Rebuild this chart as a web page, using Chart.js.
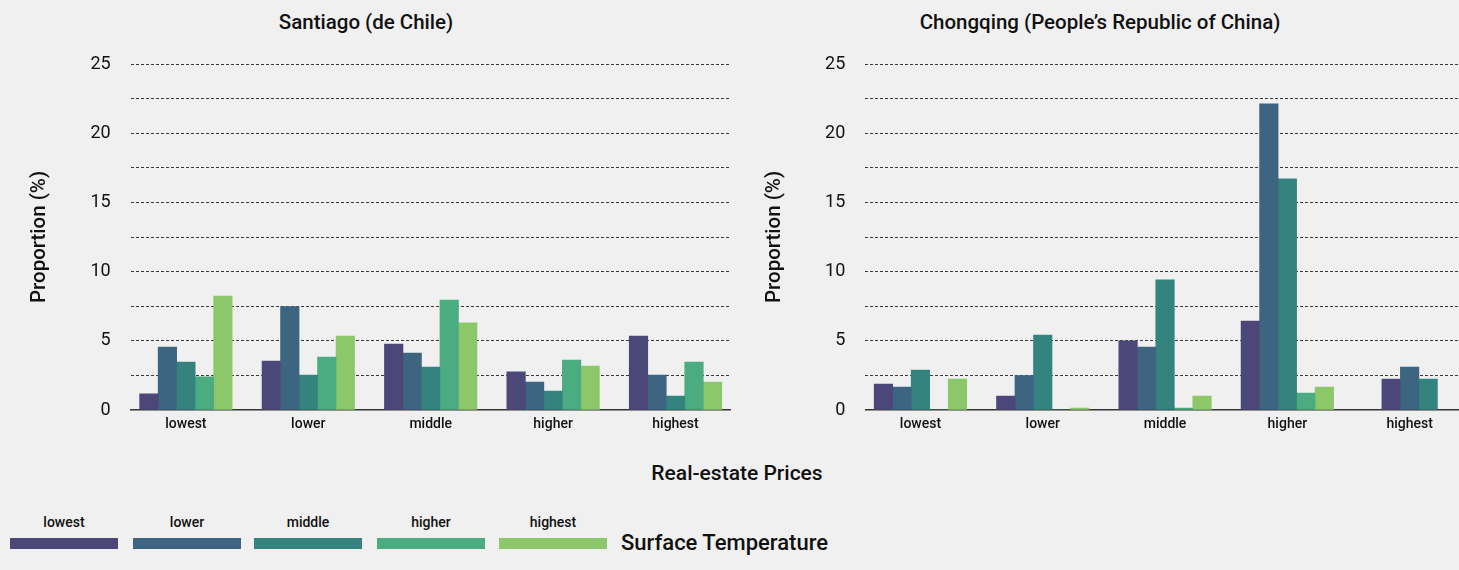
<!DOCTYPE html>
<html>
<head>
<meta charset="utf-8">
<script src="https://cdn.jsdelivr.net/npm/chart.js@4"></script>
<style>
  html, body { margin: 0; padding: 0; background: #f0f0f0; overflow: hidden; }
  body { width: 1459px; height: 570px; position: relative; font-family: Roboto, "Liberation Sans", sans-serif; color: #111; }
  .box { position: absolute; }
  .title { position: absolute; font-size: 20.5px; font-weight: 500; transform: translate(-50%, -50%); white-space: nowrap; }
  .xtitle { position: absolute; font-size: 21px; font-weight: 500; transform: translate(-50%, -50%); white-space: nowrap; }
  .leg-item { position: absolute; top: 512px; width: 108px; text-align: center; }
  .leg-item span { display: block; font-size: 14px; font-weight: 500; height: 20px; line-height: 20px; }
  .leg-item i { display: block; height: 11px; margin-top: 6px; }
  .leg-name { position: absolute; left: 621px; top: 542px; font-size: 22px; font-weight: 500; transform: translateY(-50%); white-space: nowrap; }
</style>
</head>
<body>
<div class="title" style="left:366px; top:22px;">Santiago (de Chile)</div>
<div class="title" style="left:1100px; top:22px;">Chongqing (People’s Republic of China)</div>
<div class="box" style="left:0; top:0; width:745px; height:445px;"><canvas id="chartSantiago"></canvas></div>
<div class="box" style="left:740px; top:0; width:745px; height:445px;"><canvas id="chartChongqing"></canvas></div>
<div class="xtitle" style="left:737px; top:473px;">Real-estate Prices</div>
<div id="legend"></div>
<div class="leg-name">Surface Temperature</div>

<script>
// x categories: real-estate price level
const priceLevels = ['lowest', 'lower', 'middle', 'higher', 'highest'];
// series: surface temperature level
const tempLevels = ['lowest', 'lower', 'middle', 'higher', 'highest'];
const tempColors = ['#4b4879', '#3d6581', '#34837f', '#4cac81', '#8cc86a'];

// Santiago, proportion (%) per price level, one array per temperature level
const santiagoLowest  = [1.16, 3.54, 4.77, 2.75, 5.35];
const santiagoLower   = [4.55, 7.47, 4.12, 2.02, 2.53];
const santiagoMiddle  = [3.47, 2.53, 3.11, 1.37, 1.01];
const santiagoHigher  = [2.39, 3.83, 7.95, 3.61, 3.47];
const santiagoHighest = [8.24, 5.35, 6.29, 3.18, 2.02];

// Chongqing
const chongqingLowest  = [1.88, 1.01, 4.99, 6.43, 2.24];
const chongqingLower   = [1.66, 2.48, 4.55, 22.12, 3.11];
const chongqingMiddle  = [2.89, 5.42, 9.40, 16.70, 2.24];
const chongqingHigher  = [0, 0, 0.14, 1.23, null];
const chongqingHighest = [2.24, 0.14, 1.01, 1.66, null];

const yTicksMax = 25;
const yTicksStep = 2.5;

const FONT = 'Roboto, "Liberation Sans", sans-serif';

// the category bands reach a few px past the gridlines on both sides
const widenBands = {
  id: 'widenBands',
  afterLayout(chart, args, opts) {
    const s = chart.scales.x;
    s._startPixel -= opts.by;
    s._endPixel += opts.by;
    s._length = s._endPixel - s._startPixel;
  }
};

function makeChart(id, seriesList, padLeft, yWidth, padRight) {
  const ctx = document.getElementById(id);
  return new Chart(ctx, {
    type: 'bar',
    plugins: [widenBands],
    data: {
      labels: priceLevels,
      datasets: seriesList.map((vals, i) => ({
        label: tempLevels[i],
        data: vals,
        backgroundColor: tempColors[i],
        borderWidth: 0,
        barThickness: 18.5,
        skipNull: true,
      }))
    },
    options: {
      responsive: true,
      maintainAspectRatio: false,
      animation: false,
      layout: { padding: { left: padLeft, right: padRight, top: 64, bottom: 5 } },
      plugins: {
        legend: { display: false },
        tooltip: { enabled: false },
        widenBands: { by: 6 },
      },
      scales: {
        x: {
          grid: { display: false, drawTicks: false },
          border: { display: true, color: '#333', width: 1.5 },
          ticks: { color: '#111', padding: 6, font: { family: FONT, size: 14, weight: 500 } },
          afterFit: s => { s.height = 30; },
        },
        y: {
          min: 0,
          max: yTicksMax,
          grid: {
            drawTicks: false,
            color: c => (c.tick && c.tick.value === 0) ? 'rgba(0,0,0,0)' : '#3a3a3a',
            lineWidth: 1,
          },
          border: { display: false, dash: [3, 2] },
          ticks: {
            stepSize: yTicksStep,
            padding: 20,
            color: '#111',
            font: { family: FONT, size: 18 },
            callback: v => (v % 5 === 0 ? v : ''),
          },
          title: {
            display: true,
            text: 'Proportion (%)',
            color: '#111',
            padding: 0,
            font: { family: FONT, size: 20.5, weight: 500 },
          },
          afterFit: s => { s.width = yWidth; },
        }
      }
    }
  });
}

makeChart('chartSantiago',
  [santiagoLowest, santiagoLower, santiagoMiddle, santiagoHigher, santiagoHighest], 28, 102.7, 14.3);
makeChart('chartChongqing',
  [chongqingLowest, chongqingLower, chongqingMiddle, chongqingHigher, chongqingHighest], 23, 102.3, 20.2);

// legend: labels above swatches
const legendLeft = [10, 133, 254, 377, 499];
const legend = document.getElementById('legend');
tempLevels.forEach((name, i) => {
  const d = document.createElement('div');
  d.className = 'leg-item';
  d.style.left = legendLeft[i] + 'px';
  d.innerHTML = '<span>' + name + '</span><i style="background:' + tempColors[i] + '"></i>';
  legend.appendChild(d);
});
</script>
</body>
</html>
